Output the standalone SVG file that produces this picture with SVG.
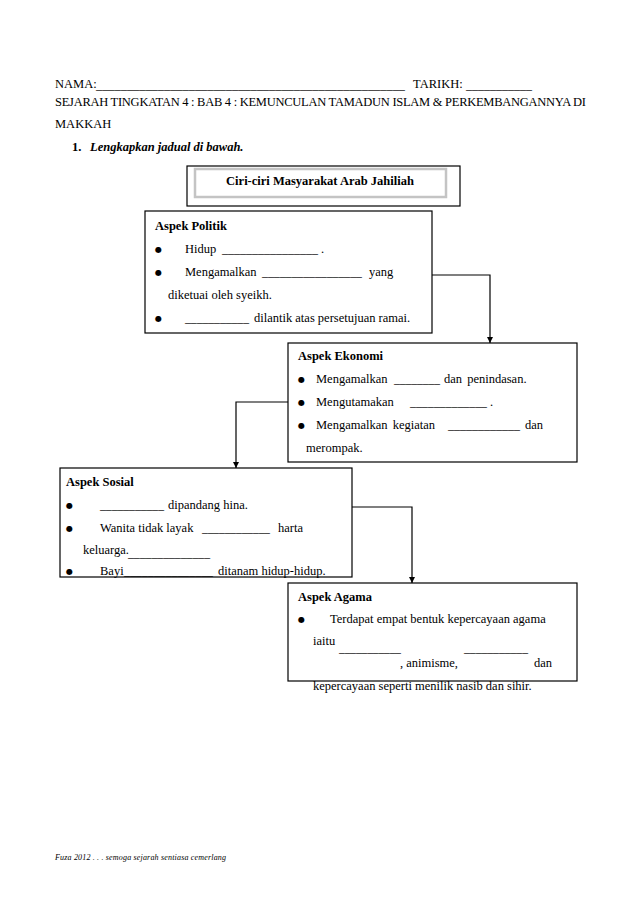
<svg xmlns="http://www.w3.org/2000/svg" width="638" height="903" viewBox="0 0 638 903">
<style>
text{font-family:"Liberation Serif","Times New Roman",serif;font-size:12.5px;fill:#000}
.b{font-weight:bold}
.bi{font-weight:bold;font-style:italic}
.bul{font-family:"DejaVu Sans",sans-serif;font-size:8px}
.box{fill:#fff;stroke:#000;stroke-width:1.2}
.con{fill:none;stroke:#000;stroke-width:1.2}
.foot{font-style:italic;font-size:8px}
</style>
<defs>
<marker id="ah" viewBox="0 0 8 8" refX="8" refY="4" markerWidth="6" markerHeight="6" orient="auto" markerUnits="userSpaceOnUse">
<path d="M0,0 L8,4 L0,8 z" fill="#000"/>
</marker>
</defs>
<rect width="638" height="903" fill="#fff"/>

<g id="header">
<text x="55" y="88">NAMA:</text>
<text x="96" y="89" textLength="309" lengthAdjust="spacingAndGlyphs">__________________________________________________</text>
<text x="413" y="88">TARIKH:</text>
<text x="466" y="89" textLength="66" lengthAdjust="spacingAndGlyphs">___________</text>
<text x="55" y="106" textLength="531" lengthAdjust="spacing">SEJARAH TINGKATAN 4 : BAB 4 :  KEMUNCULAN TAMADUN ISLAM &amp; PERKEMBANGANNYA DI</text>
<text x="55" y="128">MAKKAH</text>
<text x="72" y="151" class="b">1.</text>
<text x="90" y="151" class="bi">Lengkapkan jadual di bawah.</text>
</g>

<g id="title">
<rect x="187" y="166" width="273" height="40" class="box"/>
<rect x="195" y="169" width="251" height="28" fill="#fff" stroke="#c4c4c4" stroke-width="2.5"/>
<text x="320" y="185" class="b" text-anchor="middle" font-size="12.5">Ciri-ciri Masyarakat Arab Jahiliah</text>
</g>

<g id="connectors">
<path d="M432,275 H490 V343" class="con" marker-end="url(#ah)"/>
<path d="M288,402 H236 V468" class="con" marker-end="url(#ah)"/>
<path d="M352,507 H412 V583" class="con" marker-end="url(#ah)"/>
</g>

<g id="politik">
<rect x="145" y="211" width="287" height="122" class="box"/>
<text x="155" y="230" class="b">Aspek Politik</text>
<text x="155" y="252" class="bul">●</text>
<text x="185" y="253">Hidup</text>
<text x="222" y="253" textLength="96" lengthAdjust="spacingAndGlyphs">________________</text>
<text x="321" y="253">.</text>
<text x="155" y="275" class="bul">●</text>
<text x="185" y="276">Mengamalkan</text>
<text x="262" y="276" textLength="100" lengthAdjust="spacingAndGlyphs">_________________</text>
<text x="369" y="276">yang</text>
<text x="168" y="299">diketuai oleh syeikh.</text>
<text x="155" y="321" class="bul">●</text>
<text x="185" y="322" textLength="64" lengthAdjust="spacingAndGlyphs">___________</text>
<text x="254" y="322">dilantik atas persetujuan ramai.</text>
</g>

<g id="ekonomi">
<rect x="288" y="343" width="289" height="119" class="box"/>
<text x="298" y="360" class="b">Aspek Ekonomi</text>
<text x="298" y="382" class="bul">●</text>
<text x="316" y="383">Mengamalkan</text>
<text x="394" y="383" textLength="46" lengthAdjust="spacingAndGlyphs">________</text>
<text x="444" y="383" word-spacing="2">dan penindasan.</text>
<text x="298" y="405" class="bul">●</text>
<text x="316" y="406">Mengutamakan</text>
<text x="410" y="406" textLength="77" lengthAdjust="spacingAndGlyphs">_____________</text>
<text x="490" y="406">.</text>
<text x="298" y="428" class="bul">●</text>
<text x="316" y="429" word-spacing="2">Mengamalkan kegiatan</text>
<text x="448" y="429" textLength="72" lengthAdjust="spacingAndGlyphs">____________</text>
<text x="525" y="429">dan</text>
<text x="306" y="452">merompak.</text>
</g>

<g id="sosial">
<rect x="60" y="468" width="292" height="109" class="box"/>
<text x="66" y="486" class="b">Aspek Sosial</text>
<text x="66" y="508" class="bul">●</text>
<text x="100" y="509" textLength="64" lengthAdjust="spacingAndGlyphs">___________</text>
<text x="168" y="509">dipandang hina.</text>
<text x="66" y="531" class="bul">●</text>
<text x="100" y="532">Wanita tidak layak</text>
<text x="202" y="532" textLength="68" lengthAdjust="spacingAndGlyphs">____________</text>
<text x="278" y="532">harta</text>
<text x="83" y="554">keluarga.</text>
<text x="128" y="557" textLength="82" lengthAdjust="spacingAndGlyphs">______________</text>
<text x="66" y="574" class="bul">●</text>
<text x="100" y="575">Bayi</text>
<text x="124" y="575" textLength="89" lengthAdjust="spacingAndGlyphs">_______________</text>
<text x="218" y="575">ditanam hidup-hidup.</text>
</g>

<g id="agama">
<rect x="288" y="583" width="289" height="98" class="box"/>
<text x="298" y="601" class="b">Aspek Agama</text>
<text x="298" y="622" class="bul">●</text>
<text x="330" y="623">Terdapat empat bentuk kepercayaan agama</text>
<text x="313" y="645">iaitu</text>
<text x="339" y="652" textLength="62" lengthAdjust="spacingAndGlyphs">___________</text>
<text x="464" y="652" textLength="64" lengthAdjust="spacingAndGlyphs">___________</text>
<text x="400" y="667">, animisme,</text>
<text x="534" y="667">dan</text>
<text x="313" y="690">kepercayaan seperti menilik nasib dan sihir.</text>
</g>

<g id="footer">
<text x="55" y="860" class="foot" textLength="171" lengthAdjust="spacing">Fuza 2012 . . . semoga sejarah sentiasa cemerlang</text>
</g>
</svg>
